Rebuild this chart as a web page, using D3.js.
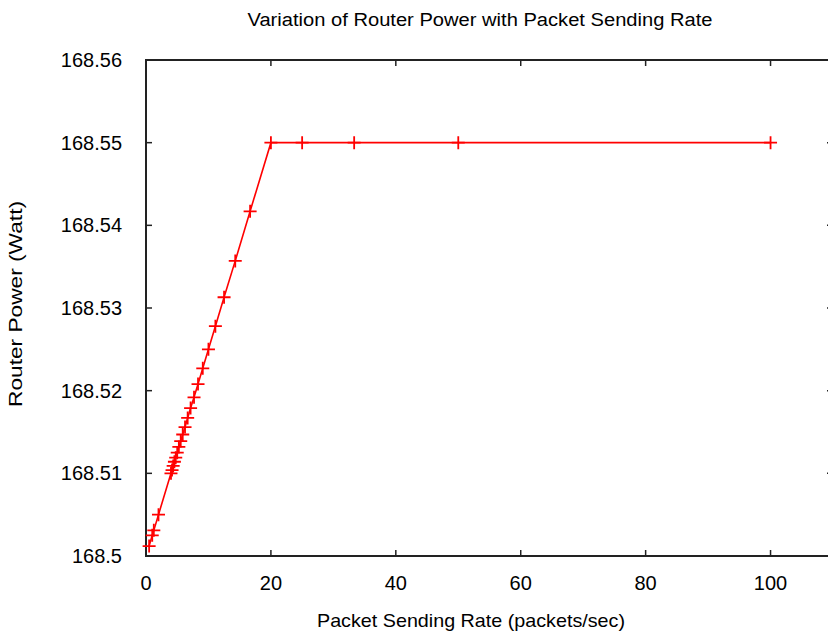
<!DOCTYPE html>
<html>
<head>
<meta charset="utf-8">
<script src="https://cdn.jsdelivr.net/npm/d3@7"></script>
<style>
  body { margin: 0; background: #fff; }
  svg text { font-family: "Liberation Sans", Arial, sans-serif; fill: #000; }
</style>
</head>
<body>
<div id="chart"></div>
<script>
// packets/sec
const rates = [0.5, 1, 1.25, 2, 4.0, 4.17, 4.35, 4.55, 4.76, 5.0, 5.26, 5.56, 5.88, 6.25,
  6.67, 7.14, 7.69, 8.33, 9.09, 10, 11.11, 12.5, 14.29, 16.67, 20, 25, 33.33, 50, 100];
// Watt
const power = [168.5012, 168.5025, 168.5031, 168.505, 168.51, 168.5104, 168.5109, 168.5114,
  168.5119, 168.5125, 168.5132, 168.5139, 168.5147, 168.5156, 168.5167, 168.5179, 168.5192,
  168.5208, 168.5227, 168.525, 168.5278, 168.5313, 168.5357, 168.5417, 168.55, 168.55,
  168.55, 168.55, 168.55];
const xTicks = [0, 20, 40, 60, 80, 100];
const yTicks = [168.5, 168.51, 168.52, 168.53, 168.54, 168.55, 168.56];

const width = 828, height = 638;
const margin = {top: 60, right: -5, bottom: 82, left: 146};

const svg = d3.select("#chart").append("svg")
  .attr("width", width)
  .attr("height", height);

const x = d3.scaleLinear()
  .domain([0, 110])
  .range([margin.left, width - margin.right]);

const y = d3.scaleLinear()
  .domain([168.5, 168.56])
  .range([height - margin.bottom, margin.top]);

const tickLen = 6;
const axisColor = "#222";

// ticks (inward, mirrored)
const ticks = svg.append("g").attr("stroke", axisColor).attr("stroke-width", 1.5);
xTicks.forEach(t => {
  ticks.append("line").attr("x1", x(t)).attr("x2", x(t))
    .attr("y1", y.range()[0]).attr("y2", y.range()[0] - tickLen);
  ticks.append("line").attr("x1", x(t)).attr("x2", x(t))
    .attr("y1", y.range()[1]).attr("y2", y.range()[1] + tickLen);
});
yTicks.forEach(t => {
  ticks.append("line").attr("x1", x.range()[0]).attr("x2", x.range()[0] + tickLen)
    .attr("y1", y(t)).attr("y2", y(t));
  ticks.append("line").attr("x1", x.range()[1]).attr("x2", x.range()[1] - tickLen)
    .attr("y1", y(t)).attr("y2", y(t));
});

// border
svg.append("rect")
  .attr("x", x.range()[0])
  .attr("y", y.range()[1])
  .attr("width", x.range()[1] - x.range()[0])
  .attr("height", y.range()[0] - y.range()[1])
  .attr("fill", "none")
  .attr("stroke", axisColor)
  .attr("stroke-width", 2);

// tick labels
svg.append("g").selectAll("text")
  .data(xTicks)
  .join("text")
    .attr("x", d => x(d))
    .attr("y", y.range()[0] + 34)
    .attr("text-anchor", "middle")
    .style("font-size", "20px")
    .text(d => d);

svg.append("g").selectAll("text")
  .data(yTicks)
  .join("text")
    .attr("x", x.range()[0] - 24)
    .attr("y", d => y(d) + 7)
    .attr("text-anchor", "end")
    .style("font-size", "20px")
    .text(d => d3.format(".2f")(d).replace(/0$/, ""));

// series
const pts = rates.map((r, i) => [r, power[i]]);
const line = d3.line().x(d => x(d[0])).y(d => y(d[1]));

svg.append("path")
  .datum(pts)
  .attr("fill", "none")
  .attr("stroke", "#ff0000")
  .attr("stroke-width", 1.6)
  .attr("d", line);

const m = 6.5;
svg.append("g")
  .attr("stroke", "#ff0000")
  .attr("stroke-width", 1.8)
  .selectAll("path")
  .data(pts)
  .join("path")
    .attr("d", d => {
      const cx = x(d[0]), cy = y(d[1]);
      return `M${cx - m},${cy}H${cx + m}M${cx},${cy - m}V${cy + m}`;
    });

// labels
svg.append("text")
  .attr("x", 480).attr("y", 26)
  .attr("text-anchor", "middle")
  .attr("textLength", 465).attr("lengthAdjust", "spacingAndGlyphs")
  .style("font-size", "18px")
  .text("Variation of Router Power with Packet Sending Rate");

svg.append("text")
  .attr("x", 471).attr("y", 627)
  .attr("text-anchor", "middle")
  .attr("textLength", 308).attr("lengthAdjust", "spacingAndGlyphs")
  .style("font-size", "19px")
  .text("Packet Sending Rate (packets/sec)");

svg.append("text")
  .attr("transform", `translate(22, 304) rotate(-90)`)
  .attr("text-anchor", "middle")
  .attr("textLength", 206).attr("lengthAdjust", "spacingAndGlyphs")
  .style("font-size", "19px")
  .text("Router Power (Watt)");
</script>
</body>
</html>
